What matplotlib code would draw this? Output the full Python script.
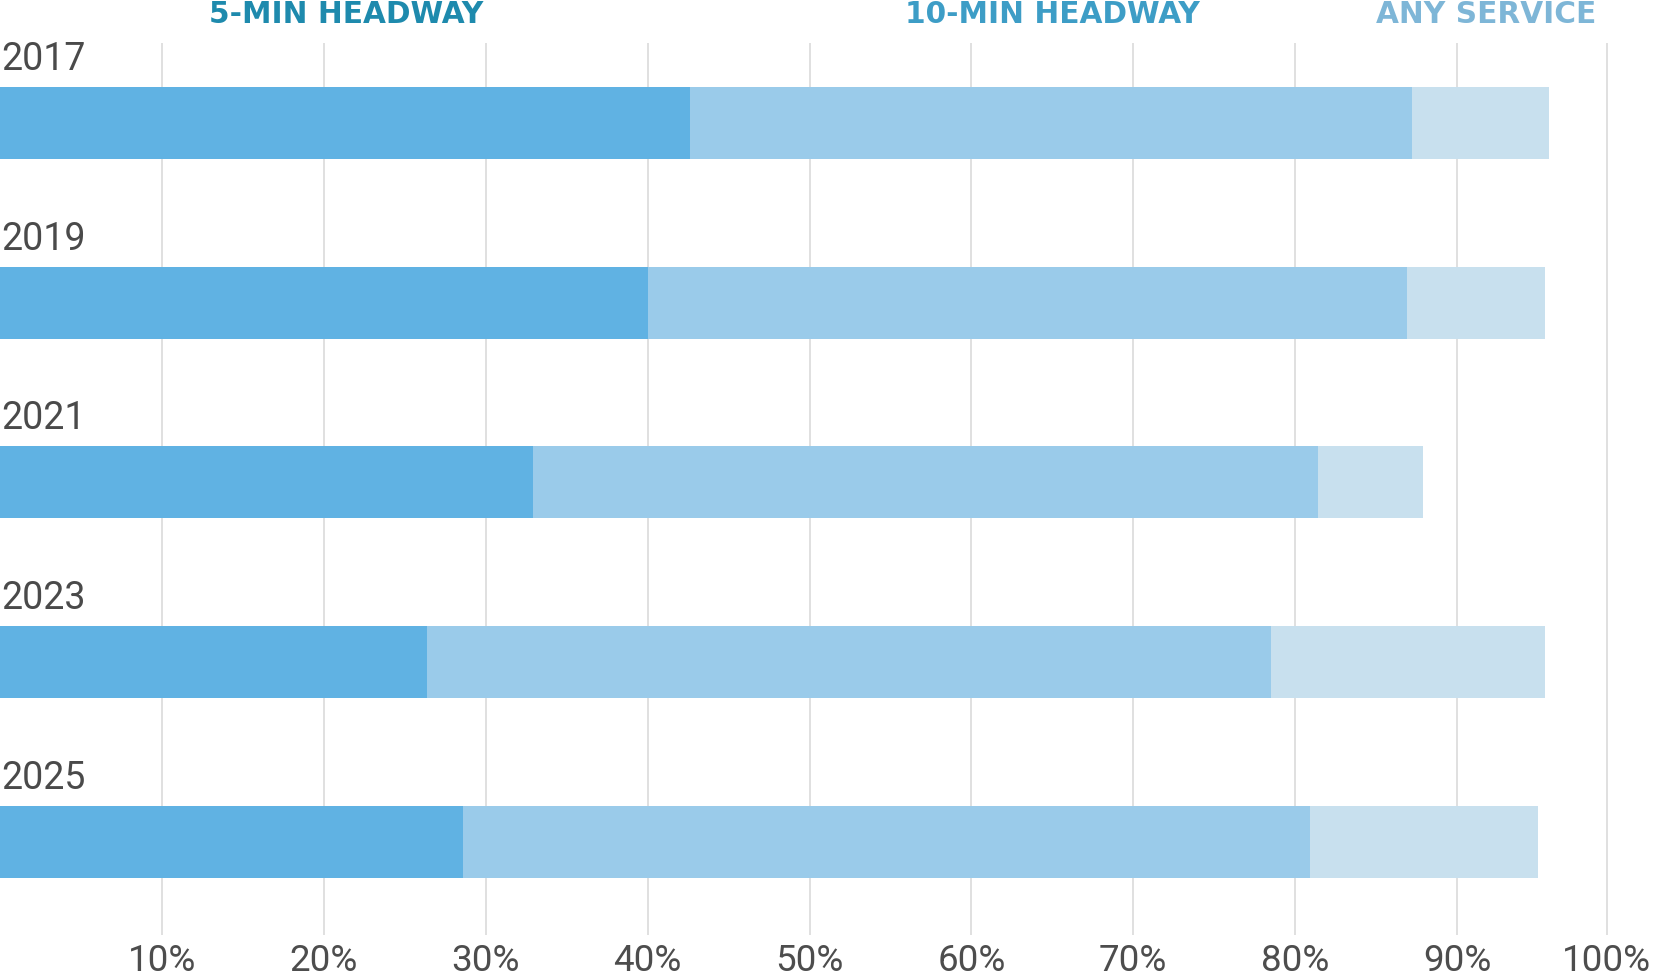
import matplotlib.pyplot as plt
import numpy as np

# dane (udział w %)
years = ["2017", "2019", "2021", "2023", "2025"]
min5 = [42.6, 40.0, 32.9, 26.4, 28.6]
min10 = [87.2, 86.9, 81.4, 78.5, 80.9]
any_service = [95.7, 95.4, 87.9, 95.4, 95.0]

series_names = ["5-MIN HEADWAY", "10-MIN HEADWAY", "ANY SERVICE"]
bar_colors = ["#60b2e3", "#9acbea", "#c8e0ee"]
head_colors = ["#1e8aad", "#3d9dc6", "#7eb6d7"]
head_x = [21.4, 65.0, 91.8]

tick_vals = [10, 20, 30, 40, 50, 60, 70, 80, 90, 99.25]
tick_labels = ["10%", "20%", "30%", "40%", "50%", "60%", "70%", "80%", "90%", "100%"]

W, H = 1657, 977
fig = plt.figure(figsize=(W / 100, H / 100), dpi=100)
ax = fig.add_axes([0, 1 - 935 / H, 1, (935 - 43) / H])

y = np.arange(len(years))
h = 0.4
# słupki nakładane od najdłuższego
ax.barh(y, any_service, height=h, color=bar_colors[2], zorder=2)
ax.barh(y, min10, height=h, color=bar_colors[1], zorder=3)
ax.barh(y, min5, height=h, color=bar_colors[0], zorder=4)

ax.set_xlim(0, W / 16.19)
ax.set_ylim(len(years) - 1 + 0.518, -0.445)

ax.set_xticks(tick_vals)
ax.set_xticklabels(tick_labels, fontfamily="Roboto", fontsize=26.5, color="#4d4d4d")
ax.tick_params(axis="x", length=0, pad=6)
ax.set_yticks([])
ax.grid(axis="x", color="#dddddd", linewidth=1.3, zorder=0)
for s in ax.spines.values():
    s.set_visible(False)

for i, yr in enumerate(years):
    ax.text(0.05, i - h / 2 - 0.095, yr, fontfamily="Roboto", fontsize=27,
            color="#4a4a4a", ha="left", va="baseline")

for name, c, hx in zip(series_names, head_colors, head_x):
    ax.text(hx, -0.445 - 20 / 179.7, name, fontfamily="DejaVu Sans", fontweight="bold",
            fontsize=21.3, color=c, ha="center", va="baseline", clip_on=False)

plt.savefig("out.png", dpi=100)
